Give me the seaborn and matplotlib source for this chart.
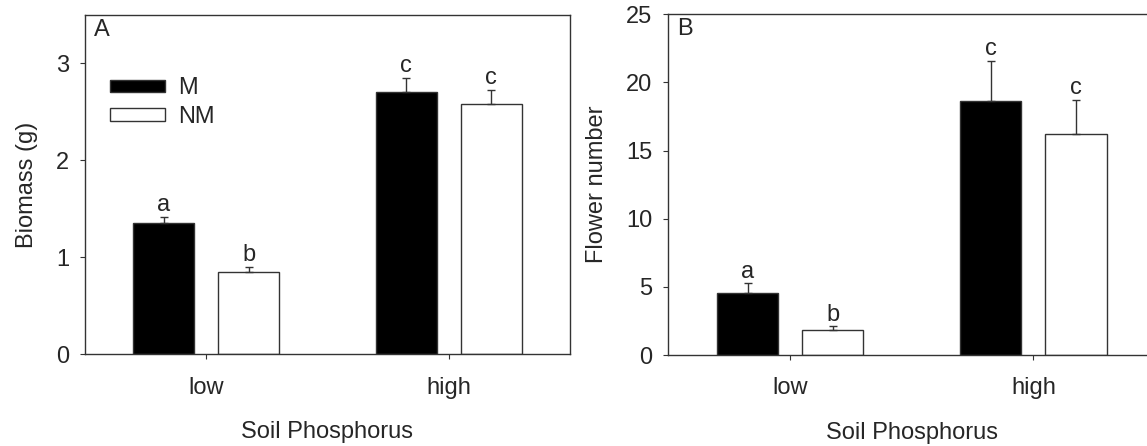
import matplotlib
matplotlib.use("Agg")
import matplotlib.pyplot as plt
import seaborn as sns
import pandas as pd

# dados
fosforo = ["low", "high"]
micorriza = ["M", "NM"]
biomassa_m = [1.35, 2.705]
biomassa_nm = [0.85, 2.585]
biomassa_m_err = [0.07, 0.15]
biomassa_nm_err = [0.05, 0.145]
flores_m = [4.55, 18.66]
flores_nm = [1.81, 16.19]
flores_m_err = [0.71, 2.91]
flores_nm_err = [0.29, 2.54]
letras_biomassa = ["a", "b", "c", "c"]
letras_flores = ["a", "b", "c", "c"]

sns.set_theme(style="ticks")
plt.rcParams["font.family"] = ["Liberation Sans", "DejaVu Sans"]
FS = 17
COR_LINHA = "#333333"


def montar_df(v_m, v_nm, e_m, e_nm):
    linhas = []
    for i, f in enumerate(fosforo):
        linhas.append({"fosforo": f, "trat": "M", "valor": v_m[i], "erro": e_m[i]})
        linhas.append({"fosforo": f, "trat": "NM", "valor": v_nm[i], "erro": e_nm[i]})
    return pd.DataFrame(linhas)


def painel(ax, df, letras, ylim, yticks, ylabel, rotulo):
    sns.barplot(data=df, x="fosforo", y="valor", hue="trat", order=fosforo,
                hue_order=micorriza, palette={"M": "black", "NM": "white"},
                width=0.7, gap=0.28, errorbar=None, edgecolor=COR_LINHA,
                linewidth=1.0, ax=ax)
    # barras ordenadas pela posição: low-M, low-NM, high-M, high-NM
    barras = [p for p in ax.patches if p.get_height() > 0]
    barras = sorted(barras, key=lambda p: p.get_x())
    xs = [p.get_x() + p.get_width() / 2 for p in barras]
    hs = [p.get_height() for p in barras]
    erros = list(df["erro"])
    ax.errorbar(xs, hs, yerr=[[0] * len(erros), erros], fmt="none",
                ecolor=COR_LINHA, elinewidth=1.0, capsize=3.2, capthick=1.0)
    for x, h, e, l in zip(xs, hs, erros, letras):
        ax.annotate(l, (x, h + e), xytext=(0, 4), textcoords="offset points",
                    ha="center", va="baseline", fontsize=FS)
    ax.set_xlim(-0.5, 1.5)
    ax.set_ylim(*ylim)
    ax.set_yticks(yticks)
    ax.set_xlabel("Soil Phosphorus", fontsize=FS, labelpad=16)
    ax.set_ylabel(ylabel, fontsize=FS, labelpad=13)
    ax.tick_params(axis="both", labelsize=FS, length=3.6, width=0.8,
                   color=COR_LINHA, direction="out")
    ax.tick_params(axis="x", pad=12.5)
    ax.tick_params(axis="y", pad=8)
    for s in ax.spines.values():
        s.set_visible(True)
        s.set_color(COR_LINHA)
        s.set_linewidth(1.0)
    ax.text(0.018, 0.988, rotulo, transform=ax.transAxes, ha="left", va="top",
            fontsize=FS)


fig = plt.figure(figsize=(11.47, 4.46), dpi=100)
ax_a = fig.add_axes([0.0741, 0.2056, 0.4228, 0.7608])
ax_b = fig.add_axes([0.5828, 0.2040, 0.4242, 0.7640])

df_bio = montar_df(biomassa_m, biomassa_nm, biomassa_m_err, biomassa_nm_err)
df_flor = montar_df(flores_m, flores_nm, flores_m_err, flores_nm_err)

painel(ax_a, df_bio, letras_biomassa, (0, 3.5), [0, 1, 2, 3], "Biomass (g)", "A")
painel(ax_b, df_flor, letras_flores, (0, 25), [0, 5, 10, 15, 20, 25],
       "Flower number", "B")

# legenda só no painel A
leg = ax_a.get_legend()
handles = leg.legend_handles
labels = [t.get_text() for t in leg.get_texts()]
ax_a.legend(handles, labels, loc="upper left", bbox_to_anchor=(0.052, 0.816),
            frameon=False, fontsize=FS, handlelength=2.33, handleheight=0.445,
            handletextpad=0.55, labelspacing=0.27, borderpad=0, borderaxespad=0)
ax_b.get_legend().remove()

fig.savefig("out.png", dpi=100)
plt.close()
